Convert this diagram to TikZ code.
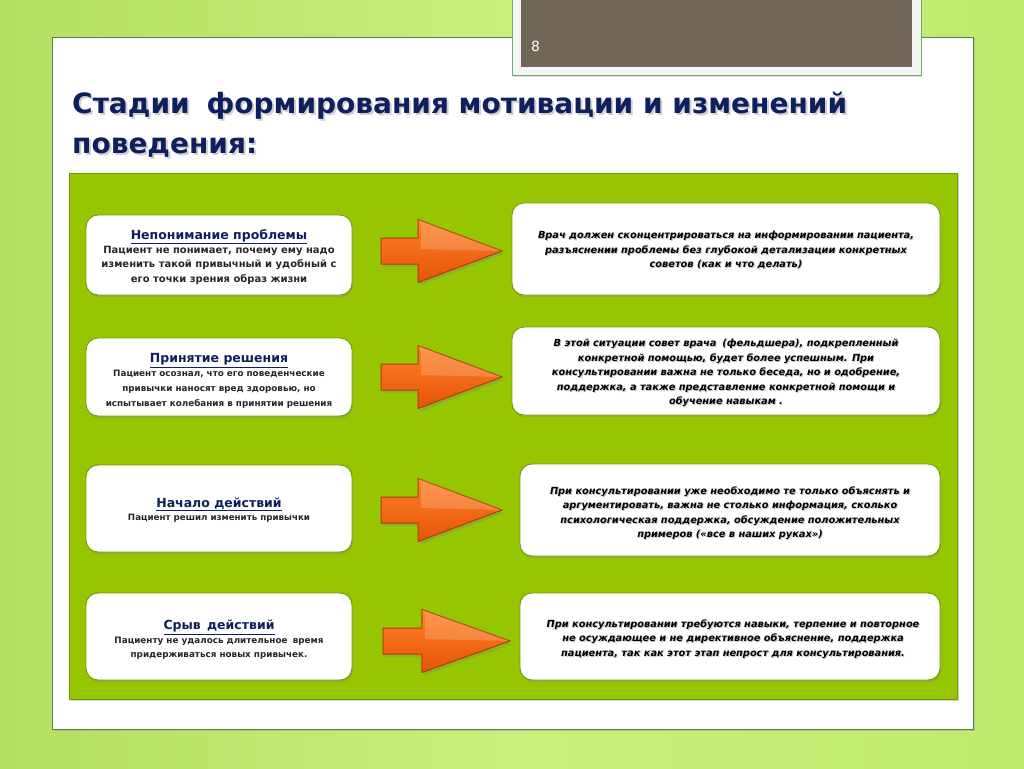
\documentclass[tikz,border=0pt]{standalone}
\usepackage{fontspec}
\setmainfont{DejaVu Sans}
\usetikzlibrary{shadows}
\definecolor{bgL}{HTML}{B4DF62}
\definecolor{bgM}{HTML}{CBEF7C}
\definecolor{bgR}{HTML}{BFEA6E}
\definecolor{panelgreen}{HTML}{95C601}
\definecolor{panelline}{HTML}{6F9A00}
\definecolor{boxline}{HTML}{6E9C0A}
\definecolor{navy}{HTML}{0D1F5C}
\definecolor{tabgray}{HTML}{706759}
\definecolor{orA}{HTML}{FF8126}
\definecolor{orB}{HTML}{E5540A}
\definecolor{orLine}{HTML}{B03E00}
\begin{document}
\begin{tikzpicture}[x=1pt,y=-1pt,
  lbox/.style={draw=boxline,line width=0.9pt,fill=white,rounded corners=12pt,minimum width=266pt,
     drop shadow={opacity=0.35,shadow xshift=1pt,shadow yshift=-2pt}},
  rbox/.style={lbox},
  ltext/.style={align=center,inner sep=0pt,text=black!85},
  rtext/.style={align=center,inner sep=0pt,text=black,font=\bfseries\itshape\fontsize{9.8}{14.4}\selectfont},
  rshadow/.style={rtext,text=black!45,opacity=0.5},
  ttlfont/.style={font=\bfseries\fontsize{28}{34}\selectfont},
  arrowsty/.style={top color=orA,bottom color=orB,draw=orLine,line width=1pt,line join=miter,
     drop shadow={opacity=0.3,shadow xshift=2pt,shadow yshift=-3pt}},
  barrow/.pic={
    \path[arrowsty] (0,-13) -- (37,-13) -- (37,-31.5) -- (121,0) -- (37,31.5) -- (37,13) -- (0,13) -- cycle;
    \fill[white,opacity=0.18] (37,-31.5) -- (121,0) -- (40,-2) -- (40,-26) -- cycle;
  }
]
\useasboundingbox (0,0) rectangle (1024,768);
% background
\shade[left color=bgL,right color=bgR,middle color=bgM] (0,0) rectangle (1024,768);
% white slide panel
\draw[draw=black!45!green!40!gray,line width=0.8pt,fill=white,
  drop shadow={opacity=0.3,shadow xshift=1.5pt,shadow yshift=-1.5pt}] (52,37) rectangle (973,729);
% top tab
\draw[draw=green!50!black!60,line width=0.8pt,fill=white!92!gray,
  drop shadow={opacity=0.25,shadow xshift=1pt,shadow yshift=-1.5pt}] (512,-2) rectangle (921,75);
\fill[tabgray] (521,-2) rectangle (912,67);
\node[anchor=base west,text=white,font=\fontsize{14}{16}\selectfont,inner sep=0pt] (pnum) at (531,52) {8};
% title
\node[anchor=base west,inner sep=0pt,text=black!60,opacity=0.3,ttlfont] (tsh1) at (74,115) {Стадии\hspace{0.6em}формирования мотивации и изменений};
\node[anchor=base west,inner sep=0pt,text=black!60,opacity=0.3,ttlfont] (tsh2) at (74,155) {поведения:};
\node[anchor=base west,inner sep=0pt,text=navy,ttlfont] (title1) at (72,113) {Стадии\hspace{0.6em}формирования мотивации и изменений};
\node[anchor=base west,inner sep=0pt,text=navy,ttlfont] (title2) at (72,153) {поведения:};
% green panel
\draw[draw=panelline,line width=0.8pt,fill=panelgreen,
  drop shadow={opacity=0.35,shadow xshift=1.5pt,shadow yshift=-2pt}] (69,173) rectangle (957,699);
% left boxes
\node[lbox,minimum height=80pt] (L1) at (219,255) {};
\node[lbox,minimum height=78pt] (L2) at (219,377) {};
\node[lbox,minimum height=87pt] (L3) at (219,508.5) {};
\node[lbox,minimum height=87pt] (L4) at (219,636.5) {};
% right boxes
\node[rbox,minimum width=428pt,minimum height=92pt] (R1) at (726,249) {};
\node[rbox,minimum width=428pt,minimum height=88pt] (R2) at (726,371) {};
\node[rbox,minimum width=420pt,minimum height=92pt] (R3) at (730,510) {};
\node[rbox,minimum width=420pt,minimum height=87pt] (R4) at (730,636.5) {};
% left texts
\node[ltext,font=\bfseries\fontsize{10}{14.6}\selectfont] (LT1) at (219,257) {{\fontsize{12.5}{14}\selectfont\textcolor{navy}{\underline{Непонимание проблемы}}}\\[-1pt]Пациент не понимает, почему ему надо\\изменить такой привычный и удобный с\\его точки зрения образ жизни};
\node[ltext,font=\bfseries\fontsize{8.8}{14.8}\selectfont] (LT2) at (219,381) {{\fontsize{12.5}{14}\selectfont\textcolor{navy}{\underline{Принятие решения}}}\\[-1pt]Пациент осознал, что его поведенческие\\привычки наносят вред здоровью, но\\испытывает колебания в принятии решения};
\node[ltext,font=\bfseries\fontsize{8.7}{14.6}\selectfont] (LT3) at (219,510) {{\fontsize{12.5}{14}\selectfont\textcolor{navy}{\underline{Начало действий}}}\\[-1pt]Пациент решил изменить привычки};
\node[ltext,font=\bfseries\fontsize{8.8}{14.6}\selectfont] (LT4) at (219,640) {{\fontsize{12.5}{14}\selectfont\textcolor{navy}{\underline{Срыв\hspace{0.5em}действий}}}\\[-1pt]Пациенту не удалось длительное\hspace{0.6em}время\\придерживаться новых привычек.};
% right texts (shadow + text)
\node[rshadow] (RS1) at (727,251) {Врач должен сконцентрироваться на информировании пациента,\\разъяснении проблемы без глубокой детализации конкретных\\советов (как и что делать)};
\node[rtext] (RT1) at (726,250) {Врач должен сконцентрироваться на информировании пациента,\\разъяснении проблемы без глубокой детализации конкретных\\советов (как и что делать)};
\node[rshadow] (RS2) at (727,374) {В этой ситуации совет врача\hspace{0.6em}(фельдшера), подкрепленный\\конкретной помощью, будет более успешным. При\\консультировании важна не только беседа, но и одобрение,\\поддержка, а также представление конкретной помощи и\\обучение навыкам .};
\node[rtext] (RT2) at (726,373) {В этой ситуации совет врача\hspace{0.6em}(фельдшера), подкрепленный\\конкретной помощью, будет более успешным. При\\консультировании важна не только беседа, но и одобрение,\\поддержка, а также представление конкретной помощи и\\обучение навыкам .};
\node[rshadow] (RS3) at (731,514) {При консультировании уже необходимо те только объяснять и\\аргументировать, важна не столько информация, сколько\\психологическая поддержка, обсуждение положительных\\примеров («все в наших руках»)};
\node[rtext] (RT3) at (730,513) {При консультировании уже необходимо те только объяснять и\\аргументировать, важна не столько информация, сколько\\психологическая поддержка, обсуждение положительных\\примеров («все в наших руках»)};
\node[rshadow] (RS4) at (734,640) {При консультировании требуются навыки, терпение и повторное\\не осуждающее и не директивное объяснение, поддержка\\пациента, так как этот этап непрост для консультирования.};
\node[rtext] (RT4) at (733,639) {При консультировании требуются навыки, терпение и повторное\\не осуждающее и не директивное объяснение, поддержка\\пациента, так как этот этап непрост для консультирования.};
% arrows
\pic (A1) at (381,251) {barrow};
\pic (A2) at (381,377) {barrow};
\pic (A3) at (381,510) {barrow};
\pic[xscale=1.05] (A4) at (383,641) {barrow};
\end{tikzpicture}
\end{document}
